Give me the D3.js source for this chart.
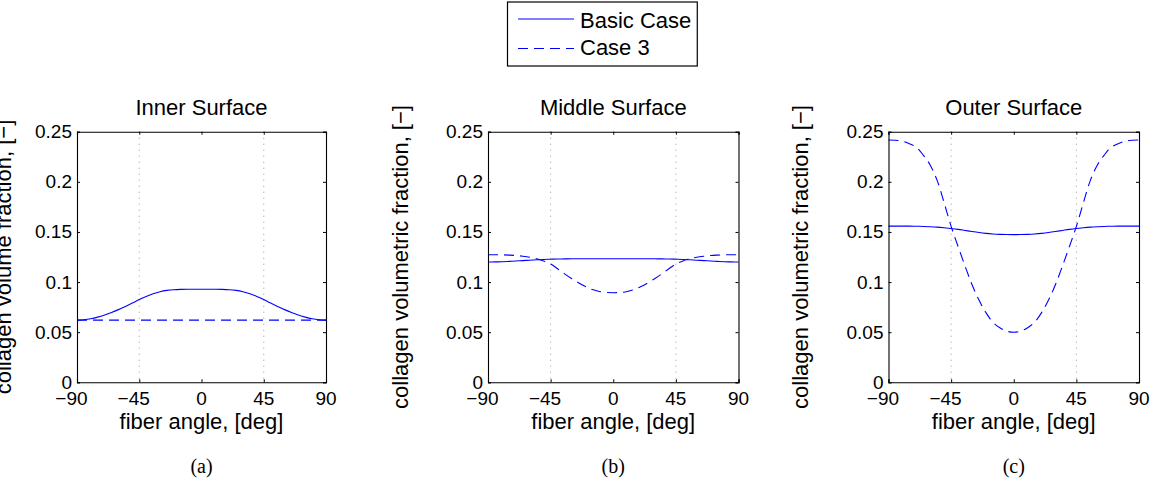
<!DOCTYPE html>
<html><head><meta charset="utf-8">
<script src="https://cdn.jsdelivr.net/npm/d3@7"></script>
<style>body{margin:0;background:#fff}svg{display:block}</style>
</head><body>
<svg id="chart" width="1156" height="481"></svg>
<script>
// ---------- data ----------
const angles = [-90,-85,-80,-75,-70,-65,-60,-55,-50,-45,-40,-35,-30,-25,-20,-15,-10,-5,0,5,10,15,20,25,30,35,40,45,50,55,60,65,70,75,80,85,90];
const xTicks = [-90,-45,0,45,90];
const yTicks = [0,0.05,0.1,0.15,0.2,0.25];
const yTickLabels = ["0","0.05","0.1","0.15","0.2","0.25"];
const gridAngles = [-45,45];
const seriesNames = ["Basic Case","Case 3"];

const innerBasic = [0.0620,0.0624,0.0634,0.0650,0.0671,0.0696,0.0725,0.0757,0.0790,0.0825,0.0857,0.0884,0.0904,0.0917,0.0924,0.0927,0.0928,0.0928,0.0928,0.0928,0.0928,0.0927,0.0924,0.0917,0.0904,0.0884,0.0857,0.0825,0.0790,0.0757,0.0725,0.0696,0.0671,0.0650,0.0634,0.0624,0.0620];
const innerCase3 = [0.0620,0.0620,0.0620,0.0620,0.0620,0.0620,0.0620,0.0620,0.0620,0.0620,0.0620,0.0620,0.0620,0.0620,0.0620,0.0620,0.0620,0.0620,0.0620,0.0620,0.0620,0.0620,0.0620,0.0620,0.0620,0.0620,0.0620,0.0620,0.0620,0.0620,0.0620,0.0620,0.0620,0.0620,0.0620,0.0620,0.0620];
const middleBasic = [0.1200,0.1201,0.1203,0.1206,0.1210,0.1214,0.1218,0.1222,0.1225,0.1228,0.1230,0.1231,0.1232,0.1233,0.1233,0.1233,0.1233,0.1233,0.1233,0.1233,0.1233,0.1233,0.1233,0.1233,0.1232,0.1231,0.1230,0.1228,0.1225,0.1222,0.1218,0.1214,0.1210,0.1206,0.1203,0.1201,0.1200];
const middleCase3 = [0.1273,0.1273,0.1272,0.1269,0.1265,0.1258,0.1248,0.1233,0.1210,0.1180,0.1133,0.1082,0.1036,0.0993,0.0955,0.0925,0.0906,0.0896,0.0894,0.0896,0.0906,0.0925,0.0955,0.0993,0.1036,0.1082,0.1133,0.1180,0.1210,0.1233,0.1248,0.1258,0.1265,0.1269,0.1272,0.1273,0.1273];
const outerBasic = [0.1558,0.1558,0.1558,0.1558,0.1557,0.1555,0.1552,0.1548,0.1542,0.1535,0.1526,0.1515,0.1504,0.1494,0.1486,0.1480,0.1476,0.1474,0.1473,0.1474,0.1476,0.1480,0.1486,0.1494,0.1504,0.1515,0.1526,0.1535,0.1542,0.1548,0.1552,0.1555,0.1557,0.1558,0.1558,0.1558,0.1558];
const outerCase3 = [0.2417,0.2415,0.2405,0.2380,0.2345,0.2267,0.2166,0.2012,0.1790,0.1555,0.1355,0.1160,0.0975,0.0820,0.0695,0.0600,0.0545,0.0510,0.0499,0.0510,0.0545,0.0600,0.0695,0.0820,0.0975,0.1160,0.1355,0.1555,0.1790,0.2012,0.2166,0.2267,0.2345,0.2380,0.2405,0.2415,0.2417];

const titles = ["Inner Surface","Middle Surface","Outer Surface"];
const yLabels = ["collagen volume fraction, [\u2212]","collagen volumetric fraction, [\u2212]","collagen volumetric fraction, [\u2212]"];
const xLabel = "fiber angle, [deg]";
const captions = ["(a)","(b)","(c)"];
const panelSeries = [[innerBasic,innerCase3],[middleBasic,middleCase3],[outerBasic,outerCase3]];

// ---------- layout ----------
const layout = [
  {x0:77, x1:326, ylabX:11},
  {x0:488, x1:738.5, ylabX:407.5},
  {x0:888.5, x1:1139, ylabX:807.5}
];
const yTop = 131.7, yBot = 382.3;
const sans = "'Liberation Sans', Arial, Helvetica, sans-serif";
const blue = "#0000ff";
const dashes = [null, "10,6"];

const svg = d3.select("#chart");

function fmtTick(v){ return v < 0 ? "\u2212" + Math.abs(v) : String(v); }

layout.forEach((L, i) => {
  const x = d3.scaleLinear().domain([-90,90]).range([L.x0, L.x1]);
  const y = d3.scaleLinear().domain([0,0.25]).range([yBot, yTop]);
  const g = svg.append("g");

  // grid lines
  g.selectAll(".grid").data(gridAngles).join("line")
    .attr("x1", d => x(d)).attr("x2", d => x(d))
    .attr("y1", yTop).attr("y2", yBot)
    .attr("stroke", "#999").attr("stroke-width", 1)
    .attr("stroke-dasharray", "1,5");

  // lines
  panelSeries[i].forEach((vals, s) => {
    const line = d3.line().x((d,k) => x(angles[k])).y(d => y(d)).curve(d3.curveCatmullRom);
    g.append("path").attr("d", line(vals))
      .attr("fill","none").attr("stroke", blue).attr("stroke-width", 1.1)
      .attr("stroke-dasharray", dashes[s]);
  });

  // axes (inward ticks on all sides)
  const tl = 3;
  const axB = d3.axisBottom(x).tickValues(xTicks).tickSize(-tl).tickFormat("");
  const axT = d3.axisTop(x).tickValues(xTicks).tickSize(-tl).tickFormat("");
  const axL = d3.axisLeft(y).tickValues(yTicks).tickSize(-tl).tickFormat("");
  const axR = d3.axisRight(y).tickValues(yTicks).tickSize(-tl).tickFormat("");
  [[axB,`translate(0,${yBot})`],[axT,`translate(0,${yTop})`],[axL,`translate(${L.x0},0)`],[axR,`translate(${L.x1},0)`]].forEach(([ax,tr]) => {
    const a = g.append("g").attr("transform", tr).call(ax);
    a.select(".domain").attr("stroke","#000").attr("stroke-width",1.1);
    a.selectAll(".tick line").attr("stroke","#000").attr("stroke-width",1);
  });

  // y tick labels
  g.selectAll(".ytl").data(yTicks).join("text")
    .attr("x", L.x0 - 5).attr("y", d => y(d))
    .attr("text-anchor","end").attr("dominant-baseline","central")
    .attr("font-family", sans).attr("font-size", 19).attr("fill","#000")
    .text((d,k) => yTickLabels[k]);

  // x tick labels (numeric part centred on tick)
  xTicks.forEach(v => {
    const t = g.append("text").attr("y", 405)
      .attr("font-family", sans).attr("font-size", 19).attr("fill","#000")
      .attr("text-anchor","start").text(fmtTick(v));
    const full = t.node().getComputedTextLength();
    const tmp = g.append("text").attr("font-family", sans).attr("font-size", 19).text(String(Math.abs(v)));
    const digits = tmp.node().getComputedTextLength();
    tmp.remove();
    t.attr("x", x(v) - (full - digits) - digits/2);
  });

  const cx = (L.x0 + L.x1)/2;
  // title
  g.append("text").attr("x", cx).attr("y", 115).attr("text-anchor","middle")
    .attr("font-family", sans).attr("font-size", 22).attr("fill","#000").text(titles[i]);
  // x label
  g.append("text").attr("x", cx).attr("y", 429).attr("text-anchor","middle")
    .attr("font-family", sans).attr("font-size", 22).attr("fill","#000").text(xLabel);
  // y label
  g.append("text").attr("transform", `translate(${L.ylabX},${(yTop+yBot)/2}) rotate(-90)`)
    .attr("text-anchor","middle")
    .attr("font-family", sans).attr("font-size", 22).attr("fill","#000").text(yLabels[i]);
  // caption
  g.append("text").attr("x", cx).attr("y", 473).attr("text-anchor","middle")
    .attr("font-family", "'Liberation Serif', 'Times New Roman', serif").attr("font-size", 20).attr("fill","#000").text(captions[i]);
});

// ---------- legend ----------
const lg = svg.append("g");
const lx = 507.5, ly = 2;
const rows = [{ly:19, ty:27.5},{ly:48.5, ty:55}];
let maxW = 0;
seriesNames.forEach((name, s) => {
  lg.append("line").attr("x1", 518).attr("x2", 574).attr("y1", rows[s].ly).attr("y2", rows[s].ly)
    .attr("stroke", blue).attr("stroke-width", 1.1).attr("stroke-dasharray", dashes[s]);
  const t = lg.append("text").attr("x", 580).attr("y", rows[s].ty)
    .attr("font-family", sans).attr("font-size", 22).attr("fill","#000").text(name);
  maxW = Math.max(maxW, t.node().getComputedTextLength());
});
lg.insert("rect", ":first-child").attr("x", lx).attr("y", ly).attr("width", 580 + maxW + 6 - lx).attr("height", 64)
  .attr("fill","#fff").attr("stroke","#000").attr("stroke-width",1.2);
</script>
</body></html>
